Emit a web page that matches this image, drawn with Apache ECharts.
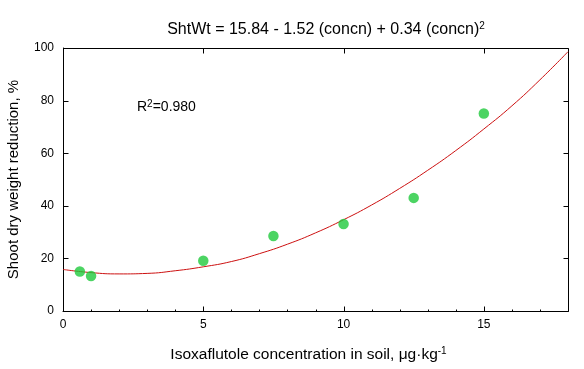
<!DOCTYPE html>
<html><head><meta charset="utf-8">
<script src="https://cdn.jsdelivr.net/npm/echarts@6/dist/echarts.min.js"></script>
<style>html,body{margin:0;padding:0;background:#fff}#c{width:584px;height:369px;background:#fff}</style>
</head><body><div id="c"></div>
<script>
const concn = [0.6, 1, 5, 7.5, 10, 12.5, 15];
const shtWt = [15, 13.3, 19.1, 28.5, 33.1, 43, 75.1];
const fitX = [0,1,2,3,4,5,6,7,8,9,10,11,12,13,14,15,16,17,18];
const fitY = [15.8,14.6,14.1,14.3,15.3,16.8,18.8,21.8,25.4,29.7,34.7,40.3,46.6,53.5,61,69.2,78,87.9,98.6];
const xTicks = [0,5,10,15];
const xMinorTicks = [1,2,3,4,6,7,8,9,11,12,13,14,16,17];
const yTicks = [0,20,40,60,80,100];
const titleText = 'ShtWt = 15.84 - 1.52 (concn) + 0.34 (concn)';
const r2Text = '=0.980';
const xName = 'Isoxaflutole concentration in soil, \u03bcg\u00b7kg';
const yName = 'Shoot dry weight reduction, %';
const X_MIN = 0, X_MAX = 18, Y_MIN = 0, Y_MAX = 100;

const chart = echarts.init(document.getElementById('c'), null, {renderer:'canvas'});
const font = 'Liberation Sans, Arial, sans-serif';
const supStyle = {fontSize:10,color:'#000',fontFamily:font,fontWeight:'normal',verticalAlign:'top',padding:[0,0,7,0]};
const crisp = v => Math.round(v) + 0.5;

function frameItem(params, api){
  const tl = api.coord([X_MIN, Y_MAX]);
  const br = api.coord([X_MAX, Y_MIN]);
  const L = crisp(tl[0]), R = crisp(br[0]), T = crisp(tl[1]), B = crisp(br[1]);
  const st = {stroke:'#000', lineWidth:1};
  const kids = [{type:'rect', shape:{x:L,y:T,width:R-L,height:B-T}, style:{fill:null, stroke:'#000', lineWidth:1}}];
  xTicks.forEach(v => {
    const x = crisp(api.coord([v, Y_MIN])[0]);
    kids.push({type:'line', shape:{x1:x,y1:B,x2:x,y2:B-5}, style:st});
    kids.push({type:'line', shape:{x1:x,y1:T,x2:x,y2:T+5}, style:st});
  });
  xMinorTicks.forEach(v => {
    const x = crisp(api.coord([v, Y_MIN])[0]);
    kids.push({type:'line', shape:{x1:x,y1:B,x2:x,y2:B-2}, style:st});
  });
  yTicks.forEach(v => {
    const y = crisp(api.coord([X_MIN, v])[1]);
    kids.push({type:'line', shape:{x1:L,y1:y,x2:L+5,y2:y}, style:st});
    kids.push({type:'line', shape:{x1:R,y1:y,x2:R-5,y2:y}, style:st});
  });
  return {type:'group', children:kids};
}

chart.setOption({
  animation:false,
  title:{
    text:'{m|'+titleText+'}{s|2}',
    left:321, top:16, textAlign:'center',
    textStyle:{fontWeight:'normal',rich:{m:{fontSize:16,color:'#000',fontFamily:font,fontWeight:'normal'},s:supStyle}}
  },
  graphic:[{
    type:'text', left:137, top:99,
    style:{text:'{m|R}{s|2}{m|'+r2Text+'}',rich:{m:{fontSize:14,fill:'#000',fontFamily:font},s:{fontSize:10,fill:'#000',fontFamily:font,verticalAlign:'top',padding:[0,0,6,0]}}}
  }],
  grid:{left:63,right:16,top:48,bottom:58,outerBoundsMode:'none',containLabel:false},
  xAxis:{type:'value',min:X_MIN,max:X_MAX,interval:5,
    axisLine:{show:true,onZero:false,lineStyle:{color:'#000'}},
    axisTick:{show:false},
    splitLine:{show:false},
    axisLabel:{color:'#000',fontSize:12,fontFamily:font,margin:8,
      formatter:function(v){return xTicks.indexOf(v)>=0?String(v):'';}},
    name:'{m|'+xName+'}{s|-1}',
    nameLocation:'middle',nameGap:35,
    nameTextStyle:{padding:[0,14,0,0],rich:{m:{fontSize:15.5,color:'#000',fontFamily:font},s:supStyle}}
  },
  yAxis:{type:'value',min:Y_MIN,max:Y_MAX,interval:20,
    axisLine:{show:true,onZero:false,lineStyle:{color:'#000'}},
    axisTick:{show:false},
    splitLine:{show:false},
    axisLabel:{color:'#000',fontSize:12,fontFamily:font,margin:9,
      formatter:function(v){return yTicks.indexOf(v)>=0?String(v):'';}},
    name:yName,nameLocation:'middle',nameGap:42,
    nameTextStyle:{fontSize:15,color:'#000',fontFamily:font}
  },
  series:[{
    type:'custom',
    renderItem:frameItem,
    data:[[X_MIN, Y_MIN]],
    silent:true,
    clip:false,
    z:1
  },{
    type:'line',
    data:fitX.map((x,i)=>[x,fitY[i]]),
    smooth:true,showSymbol:false,
    lineStyle:{color:'#cc1010',width:1},
    z:2
  },{
    type:'scatter',
    data:concn.map((x,i)=>[x,shtWt[i]]),
    symbol:'circle',symbolSize:10.5,
    itemStyle:{color:'#1fc93c'},
    z:3
  }]
});
</script></body></html>
